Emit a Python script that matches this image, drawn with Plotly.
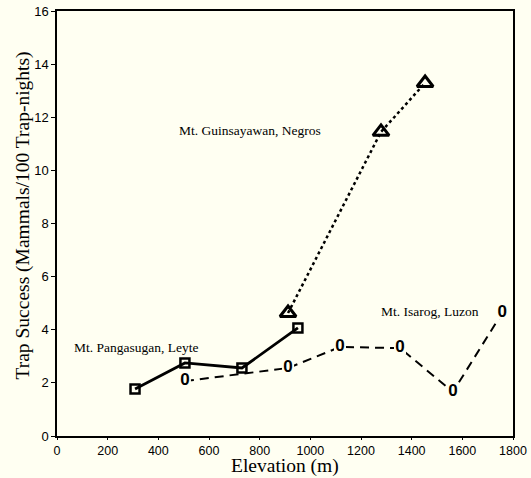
import plotly.graph_objects as go

# Mt. Pangasugan, Leyte
pang_x = [308, 505, 730, 951]
pang_y = [1.77, 2.75, 2.56, 4.07]
# Mt. Isarog, Luzon
isa_x = [505, 912, 1117, 1354, 1563, 1757]
isa_y = [2.07, 2.56, 3.35, 3.31, 1.66, 4.63]
# Mt. Guinsayawan, Negros
gui_x = [912, 1279, 1453]
gui_y = [4.63, 11.45, 13.29]

x_ticks = [0, 200, 400, 600, 800, 1000, 1200, 1400, 1600, 1800]
y_ticks = [0, 2, 4, 6, 8, 10, 12, 14, 16]

BG = "#FFFFF2"
fig = go.Figure()

fig.add_trace(go.Scatter(
    x=gui_x, y=gui_y, mode="lines+markers",
    line=dict(color="black", width=2.5, dash="dot"),
    marker=dict(symbol="triangle-up-open", size=14, color="black", line=dict(width=3)),
    showlegend=False))

fig.add_trace(go.Scatter(
    x=isa_x, y=isa_y, mode="lines+markers+text",
    line=dict(color="black", width=2, dash="9px,6px"),
    marker=dict(symbol="square", size=12, color=BG, line=dict(width=0)),
    text=["<b>0</b>"] * len(isa_x), textposition="middle center",
    textfont=dict(family="Liberation Sans", size=17, color="black"),
    showlegend=False))

fig.add_trace(go.Scatter(
    x=pang_x, y=pang_y, mode="lines+markers",
    line=dict(color="black", width=2.8),
    marker=dict(symbol="square-open", size=9, color="black", line=dict(width=2.5)),
    showlegend=False))

annots = [
    dict(x=762, y=11.52, text="Mt. Guinsayawan, Negros"),
    dict(x=1473, y=4.67, text="Mt. Isarog, Luzon"),
    dict(x=310, y=3.35, text="Mt. Pangasugan, Leyte"),
]
for a in annots:
    fig.add_annotation(x=a["x"], y=a["y"], text=a["text"], showarrow=False,
                       font=dict(family="Liberation Serif", size=13.5, color="black"))

# axis titles as annotations for precise placement
fig.add_annotation(x=0.5, y=0, xref="paper", yref="paper", xanchor="center", yanchor="bottom",
                   yshift=-42, borderpad=0, text="Elevation (m)", showarrow=False,
                   font=dict(family="Liberation Serif", size=19.5, color="black"))
fig.add_annotation(x=0, y=0.5, xref="paper", yref="paper", xanchor="center", yanchor="middle",
                   xshift=-35, yshift=8, textangle=-90,
                   text="Trap Success (Mammals/100 Trap-nights)", showarrow=False,
                   font=dict(family="Liberation Serif", size=19.5, color="black"))

fig.update_layout(
    width=531, height=478,
    margin=dict(l=57, r=18, t=11, b=42),
    paper_bgcolor=BG, plot_bgcolor=BG,
    xaxis=dict(range=[0, 1800], tickvals=x_ticks, showgrid=False, zeroline=False,
               automargin=False,
               showline=True, linecolor="black", linewidth=1.5, mirror=True,
               ticks="outside", ticklen=2, tickcolor="black",
               tickfont=dict(family="Liberation Sans", size=12.5, color="black")),
    yaxis=dict(range=[0, 16], tickvals=y_ticks, showgrid=False, zeroline=False,
               automargin=False,
               showline=True, linecolor="black", linewidth=1.5, mirror=True,
               ticks="outside", ticklen=4, tickcolor="black",
               tickfont=dict(family="Liberation Sans", size=13, color="black")),
)

fig.write_html("out.html")
